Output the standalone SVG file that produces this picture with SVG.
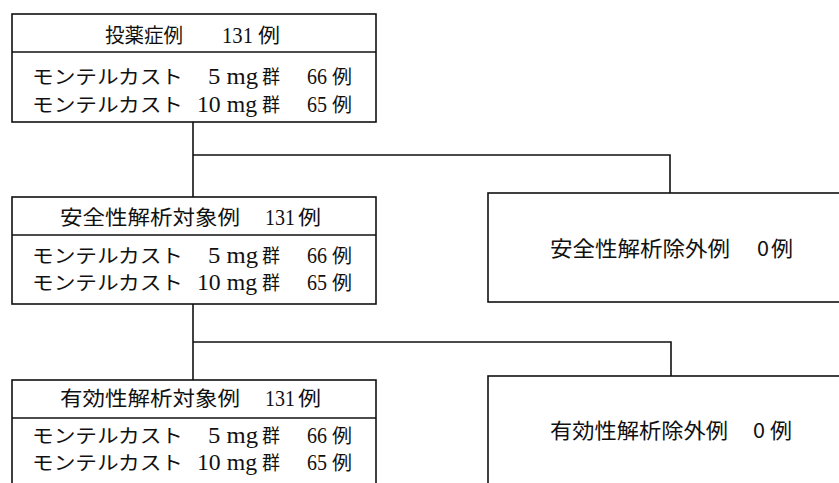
<svg xmlns="http://www.w3.org/2000/svg" width="839" height="483" viewBox="0 0 839 483">
<style>
.box{fill:#fff;stroke:#111;stroke-width:1.6}
.ln{fill:none;stroke:#111;stroke-width:1.6}
.m{font-family:"Noto Sans CJK JP",sans-serif;font-size:20px;fill:#111}
.r{font-family:"Noto Sans CJK JP",sans-serif;font-size:19px;fill:#111}
.n{font-family:"Liberation Serif",serif;font-size:23px;fill:#111}
.g{font-family:"Noto Sans CJK JP","Liberation Sans",sans-serif;font-size:21px;fill:#111}
</style>
<rect width="839" height="483" fill="#fff"/>
<g id="connectors">
<path class="ln" d="M193,122 V380"/>
<path class="ln" d="M193,155 H670 V193"/>
<path class="ln" d="M193,342 H671 V376"/>
</g>
<g id="node-dosed">
<rect class="box" x="12" y="14" width="364" height="108"/>
<line class="ln" x1="12" y1="52" x2="376" y2="52"/>
<text class="m" x="105" y="43" textLength="78" lengthAdjust="spacingAndGlyphs">投薬症例</text>
<text class="n" x="222" y="43" textLength="31" lengthAdjust="spacingAndGlyphs">131</text>
<text class="m" x="258" y="43" textLength="22" lengthAdjust="spacingAndGlyphs">例</text>
<text class="r" x="32" y="84" textLength="151" lengthAdjust="spacingAndGlyphs">モンテルカスト</text>
<text class="n" x="208" y="84" textLength="50" lengthAdjust="spacingAndGlyphs">5 mg</text>
<text class="r" x="262" y="84" textLength="18" lengthAdjust="spacingAndGlyphs">群</text>
<text class="n" x="307" y="84" textLength="20" lengthAdjust="spacingAndGlyphs">66</text>
<text class="r" x="332" y="84" textLength="20" lengthAdjust="spacingAndGlyphs">例</text>
<text class="r" x="32" y="112" textLength="151" lengthAdjust="spacingAndGlyphs">モンテルカスト</text>
<text class="n" x="197" y="112" textLength="60" lengthAdjust="spacingAndGlyphs">10 mg</text>
<text class="r" x="262" y="112" textLength="18" lengthAdjust="spacingAndGlyphs">群</text>
<text class="n" x="307" y="112" textLength="20" lengthAdjust="spacingAndGlyphs">65</text>
<text class="r" x="332" y="112" textLength="20" lengthAdjust="spacingAndGlyphs">例</text>
</g>
<g id="node-safety">
<rect class="box" x="12" y="197" width="364" height="107"/>
<line class="ln" x1="12" y1="235" x2="376" y2="235"/>
<text class="m" x="60" y="225" textLength="180" lengthAdjust="spacingAndGlyphs">安全性解析対象例</text>
<text class="n" x="265" y="225" textLength="30" lengthAdjust="spacingAndGlyphs">131</text>
<text class="m" x="298" y="225" textLength="23" lengthAdjust="spacingAndGlyphs">例</text>
<text class="r" x="32" y="263" textLength="151" lengthAdjust="spacingAndGlyphs">モンテルカスト</text>
<text class="n" x="208" y="263" textLength="50" lengthAdjust="spacingAndGlyphs">5 mg</text>
<text class="r" x="262" y="263" textLength="18" lengthAdjust="spacingAndGlyphs">群</text>
<text class="n" x="307" y="263" textLength="20" lengthAdjust="spacingAndGlyphs">66</text>
<text class="r" x="332" y="263" textLength="20" lengthAdjust="spacingAndGlyphs">例</text>
<text class="r" x="32" y="290" textLength="151" lengthAdjust="spacingAndGlyphs">モンテルカスト</text>
<text class="n" x="197" y="290" textLength="60" lengthAdjust="spacingAndGlyphs">10 mg</text>
<text class="r" x="262" y="290" textLength="18" lengthAdjust="spacingAndGlyphs">群</text>
<text class="n" x="307" y="290" textLength="20" lengthAdjust="spacingAndGlyphs">65</text>
<text class="r" x="332" y="290" textLength="20" lengthAdjust="spacingAndGlyphs">例</text>
</g>
<g id="node-safety-excluded">
<rect class="box" x="488" y="193" width="360" height="109"/>
<text class="g" x="550" y="256" textLength="180" lengthAdjust="spacingAndGlyphs">安全性解析除外例</text>
<text class="g" x="757" y="256" textLength="12" lengthAdjust="spacingAndGlyphs">0</text>
<text class="g" x="771" y="256" textLength="22" lengthAdjust="spacingAndGlyphs">例</text>
</g>
<g id="node-efficacy">
<rect class="box" x="12" y="380" width="364" height="120"/>
<line class="ln" x1="12" y1="418" x2="376" y2="418"/>
<text class="m" x="60" y="406" textLength="180" lengthAdjust="spacingAndGlyphs">有効性解析対象例</text>
<text class="n" x="265" y="406" textLength="30" lengthAdjust="spacingAndGlyphs">131</text>
<text class="m" x="298" y="406" textLength="23" lengthAdjust="spacingAndGlyphs">例</text>
<text class="r" x="32" y="443" textLength="151" lengthAdjust="spacingAndGlyphs">モンテルカスト</text>
<text class="n" x="208" y="443" textLength="50" lengthAdjust="spacingAndGlyphs">5 mg</text>
<text class="r" x="262" y="443" textLength="18" lengthAdjust="spacingAndGlyphs">群</text>
<text class="n" x="307" y="443" textLength="20" lengthAdjust="spacingAndGlyphs">66</text>
<text class="r" x="332" y="443" textLength="20" lengthAdjust="spacingAndGlyphs">例</text>
<text class="r" x="32" y="470" textLength="151" lengthAdjust="spacingAndGlyphs">モンテルカスト</text>
<text class="n" x="197" y="470" textLength="60" lengthAdjust="spacingAndGlyphs">10 mg</text>
<text class="r" x="262" y="470" textLength="18" lengthAdjust="spacingAndGlyphs">群</text>
<text class="n" x="307" y="470" textLength="20" lengthAdjust="spacingAndGlyphs">65</text>
<text class="r" x="332" y="470" textLength="20" lengthAdjust="spacingAndGlyphs">例</text>
</g>
<g id="node-efficacy-excluded">
<rect class="box" x="488" y="376" width="360" height="120"/>
<text class="g" x="550" y="438" textLength="178" lengthAdjust="spacingAndGlyphs">有効性解析除外例</text>
<text class="g" x="753" y="438" textLength="12" lengthAdjust="spacingAndGlyphs">0</text>
<text class="g" x="770" y="438" textLength="22" lengthAdjust="spacingAndGlyphs">例</text>
</g>
</svg>
